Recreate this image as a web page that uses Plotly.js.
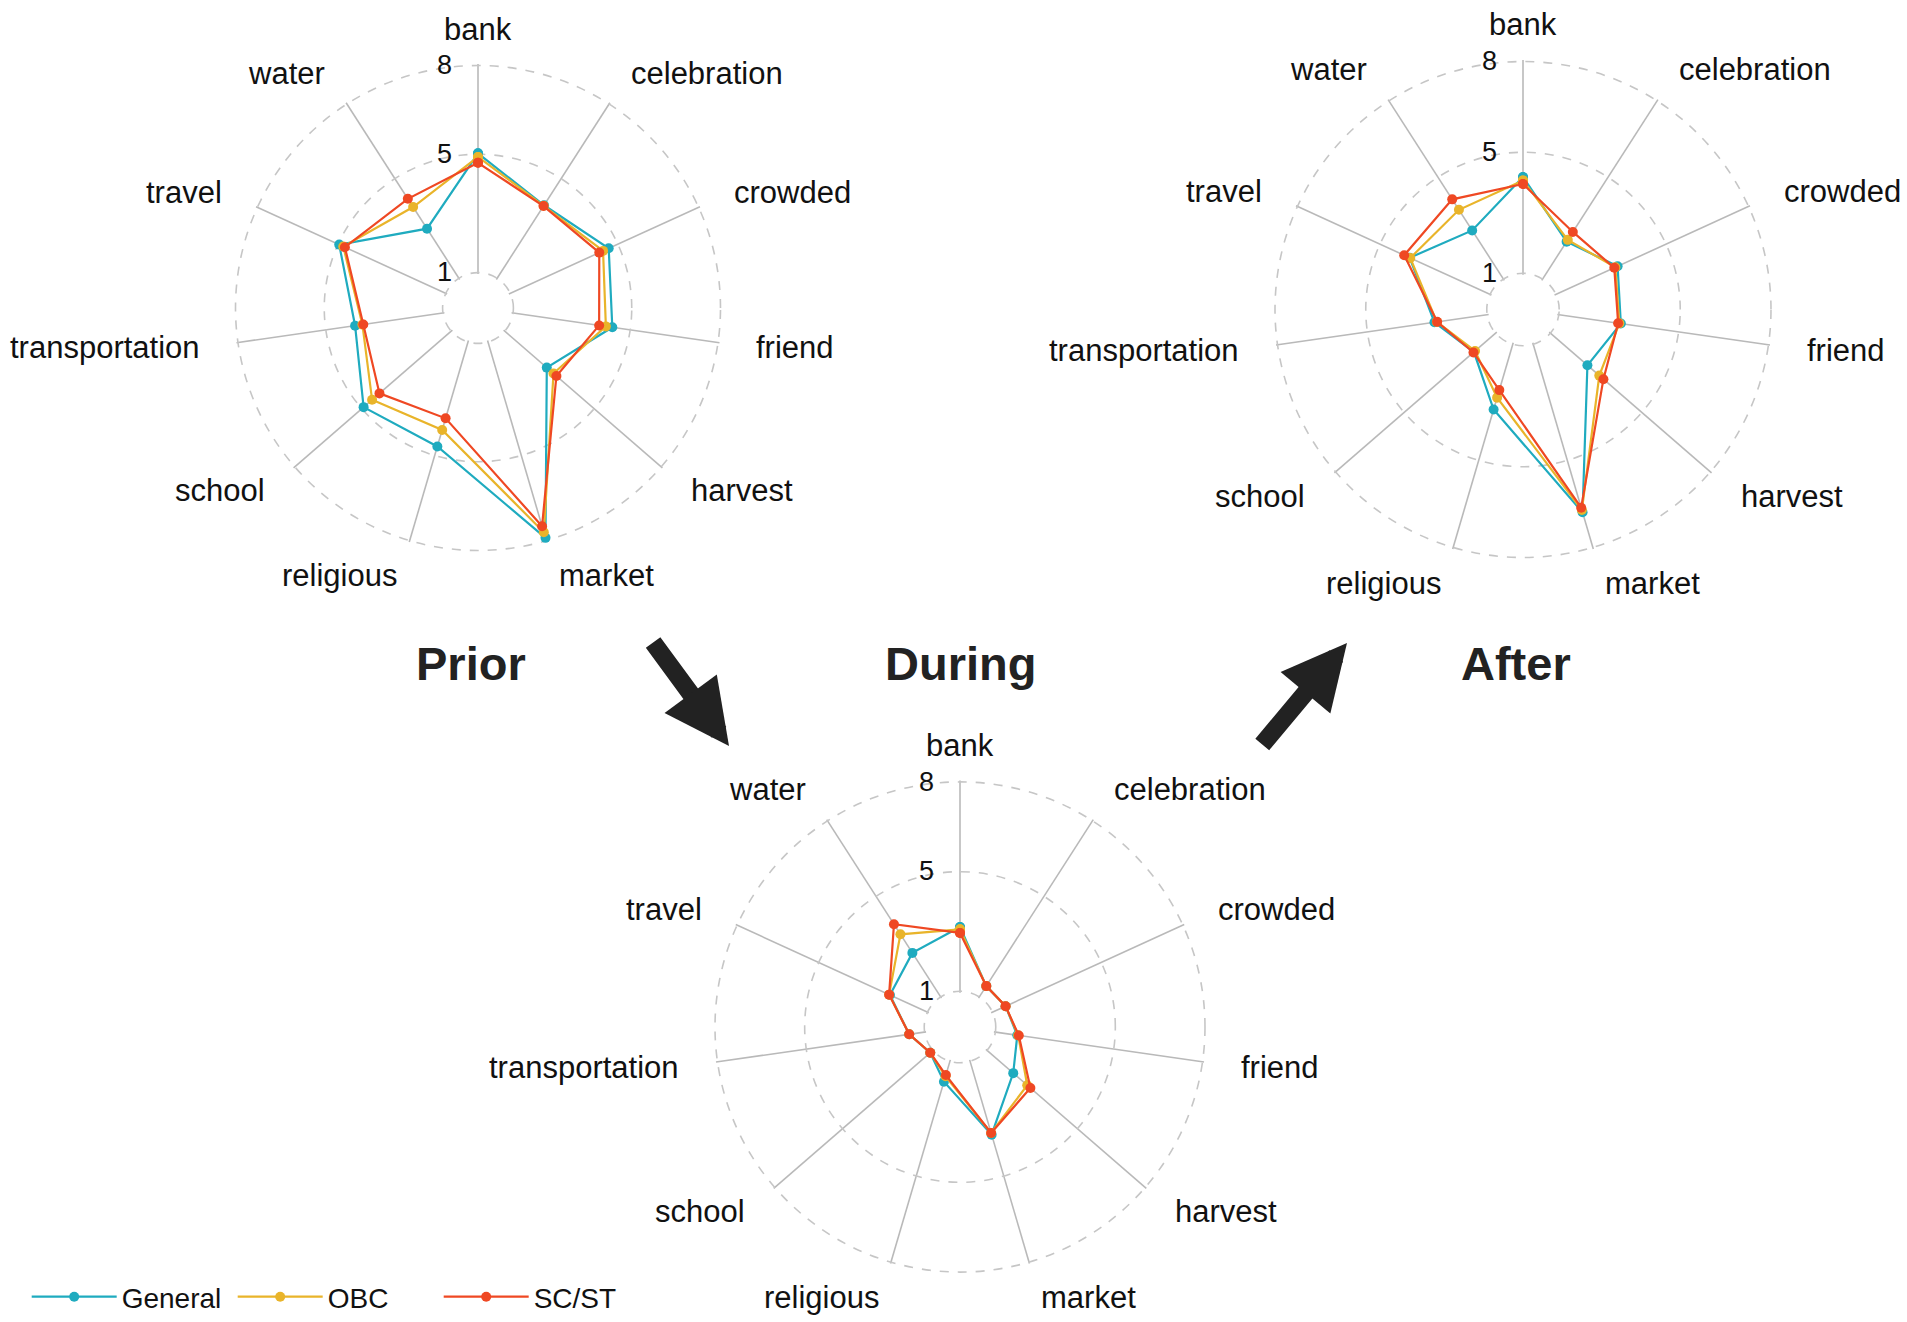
<!DOCTYPE html>
<html>
<head>
<meta charset="utf-8">
<script src="https://cdn.plot.ly/plotly-3.0.1.min.js"></script>
<style>html,body{margin:0;padding:0;background:#fff;}#chart{width:1907px;height:1322px;}</style>
</head>
<body>
<div id="chart"></div>
<script>
// ---- data ----
const categories = ['bank','celebration','crowded','friend','harvest','market','religious','school','transportation','travel','water'];
const groups = ['General','OBC','SC/ST'];
const panels = ['Prior','During','After'];

const priorGeneral = [5.03, 3.93, 4.66, 4.39, 2.88, 7.90, 4.68, 4.92, 4.00, 4.96, 2.99];
const priorOBC     = [4.91, 3.91, 4.45, 4.17, 3.18, 7.70, 4.10, 4.54, 3.75, 4.81, 3.86];
const priorSCST    = [4.71, 3.90, 4.31, 3.94, 3.31, 7.49, 3.69, 4.21, 3.72, 4.75, 4.19];

const duringGeneral = [3.15, 1.43, 1.48, 1.74, 2.16, 3.56, 1.71, 1.12, 1.52, 2.38, 2.75];
const duringOBC     = [3.07, 1.43, 1.48, 1.77, 2.78, 3.50, 1.52, 1.12, 1.52, 2.41, 3.49];
const duringSCST    = [2.95, 1.43, 1.48, 1.79, 2.92, 3.50, 1.48, 1.12, 1.52, 2.41, 3.89];

const afterGeneral = [4.18, 2.47, 3.24, 3.07, 2.62, 6.79, 3.25, 1.95, 2.76, 3.92, 2.91];
const afterOBC     = [4.07, 2.54, 3.16, 3.02, 3.14, 6.71, 2.84, 1.90, 2.68, 3.90, 3.72];
const afterSCST    = [3.95, 2.85, 3.12, 2.98, 3.32, 6.63, 2.58, 1.97, 2.67, 4.12, 4.13];

const gridValues = [1, 5, 8];
const gridLabels = ['1', '5', '8'];

// ---- styling / layout ----
const colors = {'General':'#1fabbf', 'OBC':'#e9b42a', 'SC/ST':'#ef4823'};
const W = 1907, H = 1322;
const FONT = 'Liberation Sans, Arial, Helvetica, sans-serif';
const panelGeom = {
  'Prior':  {cx: 478,  cy: 308,  R: 242.5, sub: 'polar',  title: [470.5, 663]},
  'During': {cx: 960,  cy: 1027, R: 245,   sub: 'polar2', title: [960.5, 663]},
  'After':  {cx: 1523, cy: 309.5,R: 248,   sub: 'polar3', title: [1516, 663]}
};
const RMIN = 0.95, RMAX = 8.05, HOLE_REL = 0.146;

const dataMap = {
  'Prior':  {'General': priorGeneral,  'OBC': priorOBC,  'SC/ST': priorSCST},
  'During': {'General': duringGeneral, 'OBC': duringOBC, 'SC/ST': duringSCST},
  'After':  {'General': afterGeneral,  'OBC': afterOBC,  'SC/ST': afterSCST}
};

const traces = [];
panels.forEach((p, pi) => {
  groups.forEach(g => {
    const v = dataMap[p][g];
    traces.push({
      type: 'scatterpolar',
      mode: 'lines+markers',
      r: v.concat([v[0]]),
      theta: categories.concat([categories[0]]),
      subplot: panelGeom[p].sub,
      name: g,
      legendgroup: g,
      showlegend: pi === 0,
      line: {color: colors[g], width: 2.2},
      marker: {color: colors[g], size: 10},
      cliponaxis: false,
      hoverinfo: 'skip'
    });
  });
});

const layout = {
  width: W, height: H,
  margin: {l: 0, r: 0, t: 0, b: 0},
  paper_bgcolor: '#ffffff',
  font: {family: FONT, color: '#111', size: 26},
  showlegend: true,
  legend: {
    orientation: 'h', x: 0.014, y: 0, xanchor: 'left', yanchor: 'bottom',
    font: {family: FONT, size: 28, color: '#111'}, itemwidth: 85,
    entrywidth: 106, entrywidthmode: 'pixels', traceorder: 'normal',
    bgcolor: 'rgba(0,0,0,0)'
  },
  annotations: []
};

panels.forEach(p => {
  const g = panelGeom[p];
  const span = (RMAX - RMIN);
  const k = (8 - 1) / span;
  const RpOneMinusH = (1 - HOLE_REL) * g.R / k;
  const RpH = HOLE_REL * g.R - RpOneMinusH * (1 - RMIN) / span;
  const Rp = RpOneMinusH + RpH;
  const hole = RpH / Rp;
  layout[g.sub] = {
    domain: {x: [(g.cx - Rp) / W, (g.cx + Rp) / W], y: [1 - (g.cy + Rp) / H, 1 - (g.cy - Rp) / H]},
    hole: hole,
    bgcolor: '#ffffff',
    angularaxis: {
      type: 'category', categoryarray: categories,
      direction: 'clockwise', rotation: 90,
      showticklabels: false, ticks: '', showline: false,
      showgrid: true, gridcolor: '#b9b9b9', gridwidth: 1.6
    },
    radialaxis: {
      range: [RMIN, RMAX], angle: 90, side: 'counterclockwise',
      tickvals: gridValues, ticktext: gridLabels, tickangle: 90,
      ticks: 'outside', ticklen: 16, tickcolor: 'rgba(0,0,0,0)',
      tickfont: {family: FONT, size: 27, color: '#111'},
      showline: false, showgrid: true, gridcolor: '#c6c6c6', gridwidth: 1.6, griddash: 'dash'
    }
  };
  categories.forEach((c, i) => {
    const th = i * 2 * Math.PI / categories.length;
    const s = Math.sin(th), co = Math.cos(th);
    const x = g.cx + 1.15 * g.R * s, y = g.cy - 1.15 * g.R * co;
    layout.annotations.push({
      xref: 'paper', yref: 'paper', x: x / W, y: 1 - y / H,
      text: c, showarrow: false,
      xanchor: Math.abs(s) < 0.01 ? 'center' : (s > 0 ? 'left' : 'right'),
      yanchor: 'middle',
      font: {family: FONT, size: 31, color: '#111'}
    });
  });
  layout.annotations.push({
    xref: 'paper', yref: 'paper', x: g.title[0] / W, y: 1 - g.title[1] / H,
    text: '<b>' + p + '</b>', showarrow: false, xanchor: 'center', yanchor: 'middle',
    font: {family: FONT, size: 47, color: '#222'}
  });
});

const arrows = [
  {tip: [729, 746], tail: [652, 641]},
  {tip: [1347, 643], tail: [1261, 746]}
];
arrows.forEach(a => {
  layout.annotations.push({
    xref: 'paper', yref: 'paper', x: a.tip[0] / W, y: 1 - a.tip[1] / H,
    ax: a.tail[0] - a.tip[0], ay: a.tail[1] - a.tip[1],
    text: '', showarrow: true, arrowhead: 2, arrowsize: 0.72, arrowwidth: 18,
    arrowcolor: '#222222', standoff: 0
  });
});

Plotly.newPlot('chart', traces, layout, {displayModeBar: false, staticPlot: true});
</script>
</body>
</html>
